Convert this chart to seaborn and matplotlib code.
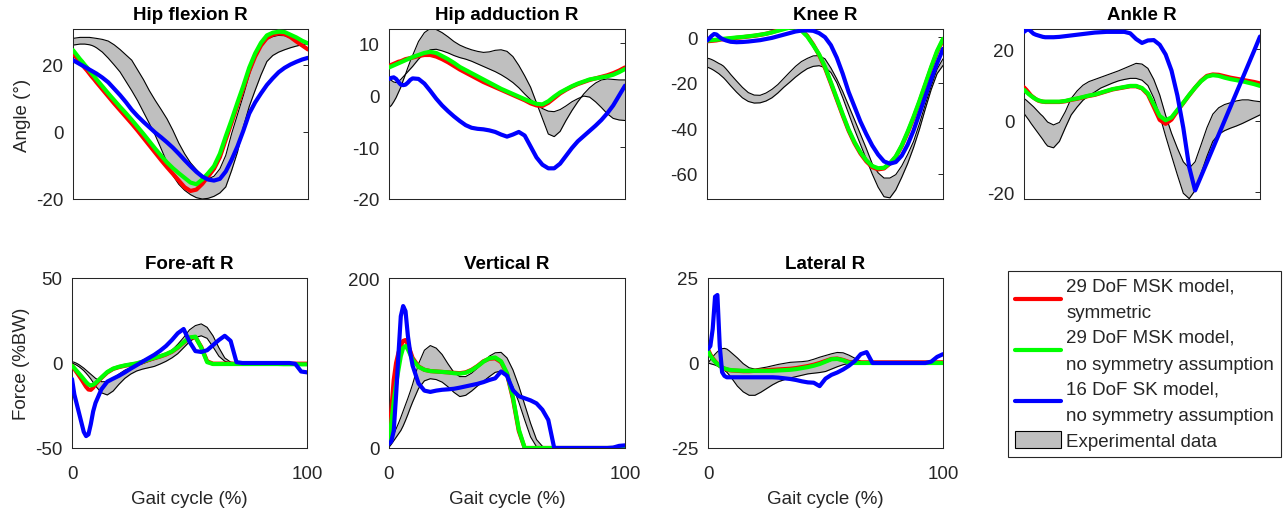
import matplotlib
matplotlib.use("Agg")
import matplotlib.pyplot as plt
import seaborn as sns
from matplotlib.lines import Line2D
from matplotlib.patches import Patch

sns.set_style("white")
plt.rcParams['font.family'] = ['Liberation Sans', 'DejaVu Sans']

# ---------------- data ----------------
gait = [0, 1, 2, 3, 4, 5, 6, 7, 8, 9, 10,
        12.5, 15, 17.5, 20, 22.5, 25, 27.5, 30, 32.5, 35, 37.5, 40, 42.5, 45, 47.5, 50,
        52.5, 55, 57.5, 60, 62.5, 65, 67.5, 70, 72.5, 75, 77.5, 80, 82.5, 85, 87.5, 90,
        92.5, 95, 97.5, 100]

# Hip flexion R
hipflex_red = [23.4, 22.6, 21.7, 20.8, 20.0, 19.1, 18.3, 17.4, 16.5, 15.7, 14.8,
               12.7, 10.6, 8.5, 6.5, 4.5, 2.5, 0.4, -1.8, -4.0, -6.2, -8.4, -10.5, -12.5, -14.5, -16.5, -17.6,
               -17.2, -15.5, -13.3, -11.0, -7.5, -2.3, 2.8, 8.0, 13.0, 18.2, 22.5, 25.8, 28.0, 29.0, 29.4, 29.2,
               28.3, 27.0, 25.8, 24.6]
hipflex_green = [24.4, 23.5, 22.6, 21.7, 20.9, 20.0, 19.2, 18.3, 17.4, 16.6, 15.7,
                 13.6, 11.5, 9.5, 7.5, 5.6, 3.6, 1.5, -0.6, -2.8, -5.0, -7.1, -9.1, -10.8, -12.3, -13.7, -15.1,
                 -15.6, -14.2, -12.3, -10.2, -6.5, -1.3, 3.6, 8.8, 13.8, 19.2, 23.4, 26.6, 28.8, 29.6, 29.9, 29.8,
                 29.0, 28.2, 27.2, 26.4]
hipflex_blue = [21.4, 21.0, 20.6, 20.2, 19.8, 19.4, 19.0, 18.6, 18.2, 17.8, 17.4,
                16.2, 14.8, 12.9, 11.0, 8.9, 6.6, 4.7, 3.0, 1.4, -0.2, -1.6, -3.1, -4.7, -6.5, -8.4, -10.2,
                -11.9, -13.3, -14.2, -14.5, -14.0, -11.8, -8.3, -4.3, 0.4, 5.5, 8.8, 11.5, 14.0, 16.0, 17.8, 19.1,
                20.1, 20.9, 21.6, 22.1]
hipflex_lo = [25.9, 26.0, 26.1, 26.2, 26.2, 26.2, 26.1, 26.0, 25.8, 25.5, 25.1,
              23.8, 22.0, 20.0, 17.9, 15.1, 12.3, 9.3, 5.9, 2.5, -1.0, -5.0, -9.1, -13.0, -15.6, -17.4, -18.7,
              -19.6, -20.0, -19.8, -19.2, -18.2, -16.4, -11.5, -6.0, 1.5, 7.6, 12.4, 17.0, 21.0, 22.8, 23.8, 24.5,
              25.1, 25.6, 26.0, 26.4]
hipflex_hi = [27.9, 28.0, 28.1, 28.2, 28.2, 28.2, 28.2, 28.2, 28.1, 28.0, 27.9,
              27.6, 27.1, 26.0, 24.6, 23.0, 21.4, 18.5, 15.6, 12.3, 9.4, 6.7, 3.9, 0.5, -3.3, -6.5, -9.2,
              -11.2, -13.0, -14.0, -13.2, -11.0, -7.0, -0.5, 5.2, 10.9, 17.0, 22.0, 25.8, 27.6, 28.4, 28.8, 28.7,
              28.1, 27.5, 27.1, 26.9]

# Hip adduction R
hipadd_red = [5.6, 5.8, 6.0, 6.2, 6.4, 6.5, 6.7, 6.9, 7.0, 7.1, 7.2,
              7.5, 7.7, 7.7, 7.4, 6.9, 6.3, 5.6, 4.9, 4.3, 3.7, 3.1, 2.5, 2.0, 1.5, 1.0, 0.5,
              0.0, -0.5, -1.0, -1.6, -2.0, -2.1, -1.5, -0.6, 0.3, 1.0, 1.6, 2.1, 2.5, 2.9, 3.2, 3.5,
              3.8, 4.2, 4.7, 5.3]
hipadd_green = [5.3, 5.5, 5.7, 5.9, 6.1, 6.3, 6.5, 6.7, 6.9, 7.1, 7.3,
                7.7, 8.1, 8.3, 8.1, 7.5, 6.9, 6.2, 5.4, 4.8, 4.2, 3.6, 3.0, 2.4, 1.8, 1.2, 0.7,
                0.2, -0.3, -0.8, -1.3, -1.7, -1.8, -1.2, -0.3, 0.5, 1.1, 1.7, 2.2, 2.6, 3.0, 3.2, 3.4,
                3.6, 3.9, 4.4, 5.0]
hipadd_blue = [3.1, 3.3, 3.4, 3.1, 2.5, 2.0, 1.9, 2.0, 2.4, 2.9, 3.2,
               3.1, 2.2, 0.8, -0.7, -2.0, -3.1, -4.1, -5.0, -5.8, -6.3, -6.5, -6.6, -6.8, -7.1, -7.6, -8.0,
               -7.6, -7.1, -7.8, -9.9, -12.0, -13.4, -14.1, -14.1, -13.2, -11.7, -10.2, -8.9, -7.9, -6.9, -5.9, -4.8,
               -3.5, -2.0, -0.1, 1.8]
hipadd_a = [-2.4, -2.0, -1.3, -0.5, 0.5, 1.5, 2.8, 4.0, 5.3, 6.5, 7.6,
            10.3, 12.0, 12.8, 12.6, 12.0, 11.2, 10.3, 9.6, 9.1, 8.7, 8.4, 8.2, 8.3, 8.6, 8.7, 8.4,
            7.4, 5.7, 3.7, 1.5, -1.5, -4.5, -7.5, -8.0, -7.0, -4.9, -3.0, -1.3, 0.2, 1.4, 2.3, 2.9,
            3.1, 3.0, 2.9, 2.9]
hipadd_b = [3.1, 2.8, 2.5, 2.4, 2.6, 3.0, 3.5, 4.0, 4.5, 5.0, 5.5,
            6.9, 8.0, 8.7, 8.8, 8.5, 8.1, 7.6, 7.2, 6.9, 6.5, 6.0, 5.5, 5.0, 4.5, 3.9, 3.2,
            2.4, 1.4, 0.2, -0.9, -1.8, -2.6, -3.1, -3.2, -2.8, -2.1, -1.3, -0.7, -0.2, -0.4, -1.3, -2.4,
            -3.6, -4.5, -4.8, -4.9]

# Knee R
knee_red = [-1.8, -1.7, -1.6, -1.5, -1.4, -1.2, -1.0, -0.9, -0.8, -0.7, -0.6,
            -0.3, 0.0, 0.3, 0.6, 1.0, 1.5, 2.2, 3.0, 3.8, 4.5, 4.5, 3.2, 0.6, -3.2, -7.8, -13.5,
            -20.3, -27.3, -34.3, -41.0, -46.5, -51.0, -54.5, -57.0, -58.0, -57.6, -55.5, -52.5, -47.8, -42.0, -35.5, -28.5,
            -21.0, -13.5, -6.5, -1.2]
knee_green = [-1.5, -1.4, -1.3, -1.2, -1.1, -1.0, -0.8, -0.7, -0.6, -0.5, -0.4,
              -0.1, 0.1, 0.4, 0.7, 1.1, 1.5, 2.1, 2.8, 3.5, 4.2, 4.3, 2.9, 0.3, -3.5, -7.5, -13.0,
              -19.8, -26.8, -33.8, -40.5, -46.0, -50.5, -54.0, -56.5, -57.5, -57.3, -55.3, -52.3, -47.5, -41.5, -35.0, -28.0,
              -20.5, -13.0, -6.0, -0.7]
knee_blue = [-1.5, -0.5, 0.6, 1.4, 1.2, 0.3, -0.5, -1.0, -1.4, -1.7, -2.0,
             -2.2, -2.1, -1.9, -1.6, -1.3, -0.8, -0.3, 0.4, 1.1, 1.8, 2.5, 2.9, 3.0, 2.8, 1.8, 0.0,
             -3.5, -9.0, -16.0, -24.0, -30.5, -37.0, -42.5, -47.5, -51.5, -54.5, -55.5, -54.8, -52.0, -47.2, -41.0, -33.5,
             -26.0, -18.5, -11.5, -5.1]
knee_hi = [-9.2, -9.4, -9.8, -10.3, -10.9, -11.5, -12.0, -12.7, -13.8, -15.0, -16.3,
           -19.2, -22.0, -24.3, -25.4, -25.5, -24.5, -22.9, -20.8, -18.1, -15.4, -12.8, -10.7, -9.3, -8.2, -8.1, -9.5,
           -13.5, -18.3, -23.8, -30.0, -36.2, -42.5, -48.8, -55.5, -59.5, -61.8, -61.8, -60.3, -56.5, -51.5, -45.8, -38.0,
           -29.5, -21.5, -14.0, -9.5]
knee_lo = [-13.1, -13.5, -14.0, -14.6, -15.3, -16.0, -16.9, -17.8, -18.9, -20.1, -21.3,
           -24.1, -26.6, -28.2, -28.9, -28.8, -28.0, -26.6, -24.5, -22.0, -19.8, -17.5, -15.5, -13.8, -12.8, -12.5, -13.3,
           -15.5, -20.0, -26.5, -33.5, -40.5, -47.0, -53.5, -60.0, -65.8, -70.0, -70.5, -67.0, -61.5, -55.5, -48.5, -40.5,
           -31.5, -23.0, -16.0, -12.4]

# Ankle R
ankle_red = [9.3, 8.6, 7.8, 7.0, 6.5, 6.0, 5.6, 5.4, 5.3, 5.2, 5.2,
             5.2, 5.2, 5.4, 5.8, 6.1, 6.5, 6.9, 7.2, 7.7, 8.2, 8.7, 9.0, 9.3, 9.6, 9.6, 9.0,
             7.3, 3.8, 0.2, -0.9, 0.3, 2.7, 4.9, 7.1, 9.2, 11.1, 12.5, 12.9, 12.8, 12.4, 12.0, 11.7,
             11.4, 11.1, 10.8, 10.4]
ankle_green = [8.6, 8.0, 7.4, 6.9, 6.4, 6.0, 5.7, 5.5, 5.3, 5.3, 5.3,
               5.3, 5.3, 5.5, 5.9, 6.2, 6.6, 7.0, 7.3, 7.8, 8.3, 8.8, 9.1, 9.4, 9.7, 9.7, 9.1,
               7.6, 4.5, 1.3, 0.1, 0.9, 3.0, 5.0, 7.2, 9.2, 11.0, 12.3, 12.7, 12.5, 12.0, 11.6, 11.3,
               11.0, 10.6, 10.2, 9.7]
ankle_blue = [24.8, 25.3, 25.5, 24.9, 24.3, 24.0, 23.8, 23.6, 23.4, 23.3, 23.3,
              23.3, 23.4, 23.6, 23.8, 24.0, 24.2, 24.4, 24.6, 24.7, 24.8, 24.8, 24.8, 24.8, 24.4, 22.8, 21.7,
              22.4, 22.5, 21.2, 18.5, 14.0, 7.0, -2.0, -13.0, -19.5, -15.6, -11.7, -7.8, -3.9, 0.0, 3.9, 7.8,
              11.7, 15.6, 19.5, 23.5]
ankle_hi = [6.2, 5.7, 5.1, 4.5, 3.9, 3.2, 2.5, 1.8, 1.2, 0.4, -0.4,
            -1.2, -0.5, 2.5, 6.2, 8.3, 9.9, 10.9, 11.5, 12.1, 12.7, 13.3, 13.9, 14.6, 15.3, 16.0, 15.8,
            14.6, 11.5, 7.2, 1.5, -3.5, -7.7, -11.5, -13.3, -11.5, -6.8, -2.0, 1.8, 3.6, 4.5, 5.0, 5.5,
            5.8, 5.8, 5.5, 5.3]
ankle_lo = [2.0, 1.1, 0.2, -0.8, -1.7, -2.6, -3.5, -4.4, -5.3, -6.3, -7.1,
            -7.6, -5.8, -2.0, 1.6, 3.8, 5.7, 7.0, 8.0, 9.1, 9.8, 10.5, 11.1, 11.5, 11.8, 11.8, 11.3,
            9.8, 6.3, 1.5, -4.3, -9.8, -15.2, -20.3, -21.8, -19.5, -14.8, -10.0, -5.8, -3.8, -2.8, -2.1, -1.5,
            -0.8, 0.0, 0.8, 1.6]

# Fore-aft R
foreaft_red = [-1.6, -3.5, -5.5, -7.5, -9.6, -11.8, -14.0, -15.6, -15.8, -14.5, -12.5,
               -8.8, -5.6, -3.5, -2.4, -1.6, -1.0, -0.4, 0.6, 1.8, 2.8, 3.8, 5.0, 6.6, 9.0, 12.0, 14.8,
               15.2, 9.5, 1.0, -0.4, -0.4, -0.4, -0.4, -0.4, -0.4, -0.4, -0.4, -0.4, -0.4, -0.4, -0.4, -0.4,
               -0.4, -0.4, -0.4, -0.4]
foreaft_green = [-1.6, -3.0, -4.6, -6.2, -7.8, -9.5, -11.2, -12.6, -13.2, -12.8, -11.8,
                 -8.5, -5.3, -3.3, -2.2, -1.4, -0.8, -0.2, 0.8, 2.0, 3.0, 4.0, 5.2, 6.8, 9.2, 12.2, 15.0,
                 15.5, 9.0, 0.5, -0.6, -0.6, -0.6, -0.6, -0.6, -0.6, -0.6, -0.6, -0.6, -0.6, -0.6, -0.6, -0.7,
                 -0.7, -0.7, -0.8, -0.8]
foreaft_blue = [-9.4, -18.5, -24.0, -29.5, -35.0, -40.5, -43.0, -42.0, -36.0, -28.5, -23.5,
                -15.5, -11.0, -9.2, -7.5, -5.5, -3.3, -1.3, 0.8, 2.8, 4.8, 7.2, 10.0, 13.5, 17.5, 20.0, 12.5,
                7.0, 6.5, 7.5, 10.5, 13.5, 16.0, 13.0, 0.5, 0.0, 0.0, 0.0, 0.0, 0.0, 0.0, 0.0, 0.0,
                0.0, -0.5, -5.0, -5.5]
foreaft_hi = [0.8, 0.4, -0.2, -1.0, -2.0, -3.0, -4.2, -5.4, -6.6, -7.8, -9.0,
              -11.0, -11.0, -9.0, -6.5, -4.2, -2.7, -1.6, -0.5, 0.8, 2.0, 3.5, 5.0, 7.5, 11.0, 15.0, 19.5,
              22.0, 23.0, 21.0, 16.0, 9.0, 3.0, 0.5, 0.0, 0.0, 0.0, 0.0, 0.0, 0.0, 0.0, 0.0, 0.0,
              0.0, 0.0, 0.0, 0.0]
foreaft_lo = [0.0, -0.6, -1.3, -2.2, -3.3, -4.5, -6.0, -7.6, -9.4, -11.4, -13.5,
              -17.5, -18.8, -16.5, -12.5, -9.0, -6.5, -4.7, -3.6, -2.8, -2.0, -0.6, 1.0, 3.0, 5.5, 9.0, 12.5,
              15.0, 16.0, 14.5, 9.5, 4.0, 1.0, 0.0, 0.0, 0.0, 0.0, 0.0, 0.0, 0.0, 0.0, 0.0, 0.0,
              0.0, 0.0, 0.0, 0.0]

# Vertical R
vert_red = [7.0, 45.0, 80.0, 100.0, 112.0, 120.0, 126.0, 127.0, 122.0, 114.0, 106.0,
            96.0, 92.0, 90.5, 90.0, 89.5, 89.0, 88.5, 88.0, 89.0, 92.0, 96.5, 102.0, 105.0, 105.5, 101.0, 87.0,
            58.0, 20.0, 0.0, 0.0, 0.0, 0.0, 0.0, 0.0, 0.0, 0.0, 0.0, 0.0, 0.0, 0.0, 0.0, 0.0,
            0.0, 0.0, 0.0, 0.0]
vert_green = [7.0, 30.0, 55.0, 75.0, 92.0, 108.0, 118.0, 120.0, 116.0, 110.0, 104.0,
              95.5, 92.0, 90.5, 90.0, 89.5, 89.0, 88.0, 87.5, 88.5, 91.5, 96.0, 101.5, 105.5, 106.5, 102.0, 88.0,
              60.0, 22.0, 0.0, 0.0, 0.0, 0.0, 0.0, 0.0, 0.0, 0.0, 0.0, 0.0, 0.0, 0.0, 0.0, 0.0,
              0.0, 0.0, 0.0, 0.0]
vert_blue = [5.0, 8.0, 20.0, 62.0, 110.0, 155.0, 167.0, 161.0, 132.0, 112.0, 97.0,
             76.0, 67.5, 66.0, 67.5, 68.5, 69.0, 69.7, 71.0, 72.5, 74.0, 75.5, 77.5, 80.0, 82.0, 90.0, 85.0,
             68.0, 61.0, 58.5, 56.0, 52.5, 45.0, 33.0, 0.0, 0.0, 0.0, 0.0, 0.0, 0.0, 0.0, 0.0, 0.0,
             0.0, 0.5, 2.5, 3.1]
vert_hi = [3.0, 9.5, 16.0, 22.5, 29.0, 36.0, 43.5, 51.0, 58.5, 66.5, 75.0,
           99.0, 115.0, 120.5, 117.5, 110.0, 99.0, 89.0, 84.0, 84.0, 88.0, 94.0, 101.0, 108.0, 112.0, 112.5, 106.0,
           92.0, 73.0, 51.0, 29.0, 10.0, 2.0, 0.0, 0.0, 0.0, 0.0, 0.0, 0.0, 0.0, 0.0, 0.0, 0.0,
           0.0, 0.0, 0.0, 0.0]
vert_lo = [1.0, 4.5, 8.5, 12.5, 16.5, 20.5, 26.0, 32.5, 39.5, 47.0, 54.0,
           70.0, 79.0, 81.5, 80.5, 77.5, 72.0, 65.5, 60.5, 62.0, 67.0, 73.0, 78.5, 84.0, 89.0, 90.5, 85.0,
           72.0, 54.0, 33.0, 13.0, 1.5, 0.0, 0.0, 0.0, 0.0, 0.0, 0.0, 0.0, 0.0, 0.0, 0.0, 0.0,
           0.0, 0.0, 0.0, 0.0]

# Lateral R
lat_red = [4.0, 2.5, 1.4, 0.5, -0.2, -0.8, -1.3, -1.7, -1.9, -2.1, -2.2,
           -2.3, -2.4, -2.4, -2.3, -2.2, -2.1, -2.0, -1.9, -1.8, -1.7, -1.5, -1.2, -0.9, -0.5, 0.0, 0.6,
           1.2, 1.3, 0.9, 0.3, 0.2, 0.2, 0.2, 0.2, 0.2, 0.2, 0.2, 0.2, 0.2, 0.2, 0.2, 0.2,
           0.2, 0.2, 0.2, 0.2]
lat_green = [3.6, 2.2, 1.2, 0.4, -0.3, -0.8, -1.3, -1.6, -1.8, -2.0, -2.1,
             -2.2, -2.3, -2.3, -2.3, -2.3, -2.3, -2.3, -2.2, -2.1, -2.0, -1.8, -1.5, -1.2, -0.8, -0.3, 0.4,
             1.1, 1.2, 0.8, 0.1, 0.0, 0.0, 0.0, 0.0, 0.0, 0.0, 0.0, 0.0, 0.0, 0.0, 0.0, 0.0,
             0.0, 0.0, 0.0, 0.0]
lat_blue = [4.1, 5.0, 10.0, 19.5, 20.0, 5.0, -2.7, -3.8, -4.2, -4.2, -4.2,
            -4.2, -4.2, -4.2, -4.2, -4.2, -4.2, -4.2, -4.3, -4.5, -4.7, -5.0, -5.4, -5.7, -5.8, -6.8, -4.6,
            -3.5, -2.8, -1.9, -0.8, 0.6, 2.6, 3.2, 0.0, 0.0, 0.0, 0.0, 0.0, 0.0, 0.0, 0.0, 0.0,
            0.0, 0.4, 1.8, 2.6]
lat_hi = [0.0, 0.9, 1.8, 2.6, 3.3, 3.9, 4.2, 4.3, 4.1, 3.6, 3.0,
          1.5, -0.2, -1.4, -1.8, -1.5, -1.2, -0.8, -0.4, -0.1, 0.2, 0.3, 0.4, 0.6, 1.1, 1.7, 2.2,
          2.7, 3.1, 3.0, 2.3, 1.4, 0.5, 0.0, 0.0, 0.0, 0.0, 0.0, 0.0, 0.0, 0.0, 0.0, 0.0,
          0.0, 0.0, 0.0, 0.0]
lat_lo = [0.0, -0.2, -0.4, -0.6, -0.9, -1.3, -1.7, -2.2, -2.7, -3.5, -4.4,
          -6.8, -8.5, -9.5, -9.5, -8.6, -7.5, -6.4, -5.5, -4.9, -4.4, -4.0, -3.6, -3.2, -3.0, -2.8, -2.5,
          -1.8, -1.1, -0.5, -0.1, 0.0, 0.0, 0.0, 0.0, 0.0, 0.0, 0.0, 0.0, 0.0, 0.0, 0.0, 0.0,
          0.0, 0.0, 0.0, 0.0]

titles = ['Hip flexion R', 'Hip adduction R', 'Knee R', 'Ankle R',
          'Fore-aft R', 'Vertical R', 'Lateral R']
legend_labels = ['29 DoF MSK model,\nsymmetric',
                 '29 DoF MSK model,\nno symmetry assumption',
                 '16 DoF SK model,\nno symmetry assumption',
                 'Experimental data']

# ---------------- layout / style ----------------
W, H = 1286, 510
RED, GREEN, BLUE = '#FF0000', '#00FF00', '#0000FF'
BAND = '#BFBFBF'
AXC = '#262626'
FS = 13.5

panels = [
    (hipflex_red, hipflex_green, hipflex_blue, hipflex_lo, hipflex_hi, (73, 30, 235, 170), (-20, 30.7), [-20, 0, 20], 'Angle (°)', False),
    (hipadd_red, hipadd_green, hipadd_blue, hipadd_a, hipadd_b, (389, 30, 236, 170), (-20, 12.7), [-20, -10, 0, 10], None, False),
    (knee_red, knee_green, knee_blue, knee_lo, knee_hi, (707, 30, 236, 170), (-71, 3.6), [-60, -40, -20, 0], None, False),
    (ankle_red, ankle_green, ankle_blue, ankle_lo, ankle_hi, (1024, 30, 236, 170), (-21.9, 25.6), [-20, 0, 20], None, False),
    (foreaft_red, foreaft_green, foreaft_blue, foreaft_lo, foreaft_hi, (72, 279, 235, 170), (-50, 50), [-50, 0, 50], 'Force (%BW)', True),
    (vert_red, vert_green, vert_blue, vert_lo, vert_hi, (389, 279, 236, 170), (0, 200), [0, 200], None, True),
    (lat_red, lat_green, lat_blue, lat_lo, lat_hi, (708, 279, 235, 170), (-25, 25), [-25, 0, 25], None, True),
]

fig = plt.figure(figsize=(W / 100, H / 100), dpi=100)
fig.patch.set_facecolor('white')

for title, (red, green, blue, lo, hi, (px, py, pw, ph), ylim, yticks, ylabel, xlab) in zip(titles, panels):
    ax = fig.add_axes([px / W, 1 - (py + ph) / H, pw / W, ph / H])
    ax.fill_between(gait, lo, hi, color=BAND, linewidth=0, zorder=1)
    sns.lineplot(x=gait, y=lo, color='black', linewidth=0.8, ax=ax, sort=False, estimator=None, legend=False, zorder=2)
    sns.lineplot(x=gait, y=hi, color='black', linewidth=0.8, ax=ax, sort=False, estimator=None, legend=False, zorder=2)
    sns.lineplot(x=gait, y=red, color=RED, linewidth=3, ax=ax, sort=False, estimator=None, legend=False, zorder=3)
    sns.lineplot(x=gait, y=green, color=GREEN, linewidth=3, ax=ax, sort=False, estimator=None, legend=False, zorder=4)
    sns.lineplot(x=gait, y=blue, color=BLUE, linewidth=3, ax=ax, sort=False, estimator=None, legend=False, zorder=5)

    ax.set_xlim(0, 100)
    ax.set_ylim(*ylim)
    ax.set_yticks(yticks)
    ax.set_yticklabels([str(v) for v in yticks])
    if xlab:
        ax.set_xticks([0, 100])
        ax.set_xticklabels(['0', '100'])
        ax.set_xlabel('Gait cycle (%)', fontsize=FS, color=AXC)
        ax.xaxis.set_label_coords(0.5, -0.245)
    else:
        ax.set_xticks([])
        ax.set_xlabel('')
    if ylabel:
        ax.set_ylabel(ylabel, fontsize=FS, color=AXC)
        ax.yaxis.set_label_coords(-0.18, 0.5)
    else:
        ax.set_ylabel('')
    ax.set_title(title, fontsize=FS, fontweight='bold', pad=7, color='black')
    ax.tick_params(axis='both', direction='in', length=3.5, width=0.7, colors=AXC,
                   labelsize=FS, right=True, top=True)
    ax.tick_params(axis='y', pad=7)
    ax.tick_params(axis='x', pad=12.5)
    for sp in ax.spines.values():
        sp.set_visible(True)
        sp.set_color(AXC)
        sp.set_linewidth(0.75)

handles = [Line2D([], [], color=RED, lw=3),
           Line2D([], [], color=GREEN, lw=3),
           Line2D([], [], color=BLUE, lw=3),
           Patch(facecolor=BAND, edgecolor='black', linewidth=0.8)]
leg = fig.legend(handles, legend_labels, loc='upper left',
                 bbox_to_anchor=(1008 / W, 1 - 272 / H), bbox_transform=fig.transFigure,
                 fontsize=FS, frameon=True, fancybox=False, edgecolor=AXC, framealpha=1,
                 borderpad=0.35, labelspacing=0.4, handlelength=2.5, handleheight=1.0,
                 handletextpad=0.25, borderaxespad=0)
for t in leg.get_texts():
    t.set_linespacing(1.75)
leg.get_frame().set_linewidth(0.8)

fig.savefig('out.png', dpi=100, facecolor='white')
